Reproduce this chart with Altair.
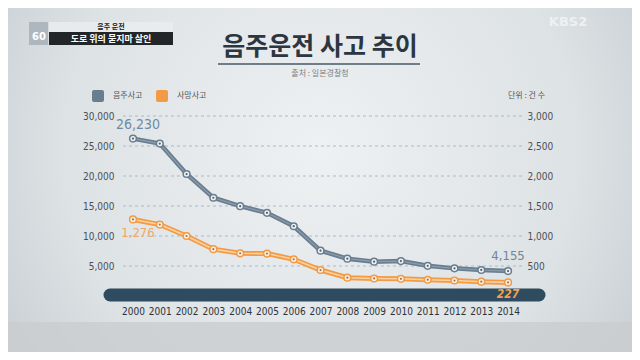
import altair as alt
import pandas as pd

years = list(range(2000, 2015))
drunk = [26230, 25400, 20331, 16374, 14977, 13864, 11627, 7562, 6219, 5726, 5822, 5030, 4605, 4335, 4155]
fatal = [1276, 1191, 1000, 781, 712, 707, 612, 433, 305, 292, 287, 271, 258, 238, 227]
left_ticks = [5000, 10000, 15000, 20000, 25000, 30000]
right_ticks = [500, 1000, 1500, 2000, 2500, 3000]

BLUE = "#687d8f"
BLUE_LIGHT = "#9aabb9"
ORANGE = "#f29a44"
ORANGE_LIGHT = "#fcd2a2"
FONT = "Noto Sans CJK KR"
NUMF = "DejaVu Sans Condensed"

df = pd.DataFrame({"year": years, "drunk": drunk, "fatal": fatal})
grid_df = pd.DataFrame({"drunk": left_ticks})
one = pd.DataFrame({"a": [0]})

W, H = 399, 180
xscale = alt.Scale(domain=[1999.627, 2014.52], nice=False, zero=False)
X = alt.X("year:Q", scale=xscale,
          axis=alt.Axis(values=years, format="d", domain=False, ticks=False, grid=False,
                        labelPadding=10, labelFont=NUMF, labelFontSize=10, zindex=1,
                        labelColor="#2e3236", title=None, labelFlush=False))

# background
bg = alt.Chart(one).mark_rect(
    fill=alt.Gradient(gradient="radial", stops=[
        alt.GradientStop(color="#eef1f2", offset=0),
        alt.GradientStop(color="#dde2e5", offset=0.55),
        alt.GradientStop(color="#b9c0c5", offset=1)],
        x1=0.5, y1=0.45, r1=0, x2=0.5, y2=0.45, r2=0.75)
).encode(x=alt.value(-115), x2=alt.value(509), y=alt.value(-108), y2=alt.value(236))

bottom_band = alt.Chart(one).mark_rect(fill="#c9cdd0", opacity=0.8).encode(
    x=alt.value(-115), x2=alt.value(509), y=alt.value(206), y2=alt.value(236))

def txt(text, x, y, size, color, weight="normal", align="center", font=FONT):
    return alt.Chart(one).mark_text(text=text, fontSize=size, color=color, fontWeight=weight,
                                    align=align, baseline="middle", font=font).encode(
        x=alt.value(x), y=alt.value(y))

title = txt("음주운전 사고 추이", 197, -69, 25, "#2c3641", weight="bold")
underline = alt.Chart(one).mark_rule(color="#6f7d89", strokeWidth=2).encode(
    x=alt.value(95), x2=alt.value(297), y=alt.value(-52))
source = txt("출처 : 일본경찰청", 197, -42, 8, "#7a7f84")

leg_b = alt.Chart(one).mark_rect(fill=BLUE, cornerRadius=2).encode(
    x=alt.value(-31), x2=alt.value(-19), y=alt.value(-26), y2=alt.value(-14))
leg_bt = txt("음주사고", -10, -20, 8, "#555555", align="left")
leg_o = alt.Chart(one).mark_rect(fill=ORANGE, cornerRadius=2).encode(
    x=alt.value(33), x2=alt.value(45), y=alt.value(-26), y2=alt.value(-14))
leg_ot = txt("사망사고", 54, -20, 8, "#555555", align="left")
unit = txt("단위 : 건 수", 422, -20, 8, "#555555", align="right")

# TV overlays
cap_box = alt.Chart(one).mark_rect(fill="#e9ecee", opacity=0.9).encode(
    x=alt.value(-74), x2=alt.value(50), y=alt.value(-94), y2=alt.value(-84))
cap_dark = alt.Chart(one).mark_rect(fill="#222629").encode(
    x=alt.value(-74), x2=alt.value(50), y=alt.value(-84), y2=alt.value(-71))
logo = alt.Chart(one).mark_rect(fill="#aab3b9", opacity=0.9).encode(
    x=alt.value(-94), x2=alt.value(-75), y=alt.value(-94), y2=alt.value(-71))
cap1 = txt("음주 운전", -12, -89, 7, "#222222", weight="bold")
cap2 = txt("도로 위의 묻지마 살인", -12, -77, 9, "#ffffff", weight="bold")
logo_t = txt("60", -84, -79, 10, "#ffffff", weight="bold", font="DejaVu Sans")
kbs = txt("KBS2", 445, -94, 13, "#eef1f3", weight="bold", font="DejaVu Sans")

bar = alt.Chart(one).mark_rule(color="#2f4b60", strokeWidth=13, strokeCap="round").encode(
    x=alt.value(-13), x2=alt.value(416), y=alt.value(179))

# left (blue) series
yL = alt.Y("drunk:Q", scale=alt.Scale(domain=[0, 30000], nice=False),
           axis=alt.Axis(values=left_ticks, format=",.0f", orient="left", domain=False, ticks=False,
                         grid=False, labelPadding=9, labelFont=NUMF, labelFontSize=10,
                         labelColor="#4a4f55", title=None, zindex=1))
grid = alt.Chart(grid_df).mark_rule(color="#a8bccb", strokeDash=[3, 3], strokeWidth=1).encode(
    y=yL, x=alt.value(0), x2=alt.value(W))
base_b = alt.Chart(df).encode(x=X, y=yL)
line_b = base_b.mark_line(color=BLUE, strokeWidth=4.5)
line_b2 = base_b.mark_line(color=BLUE_LIGHT, strokeWidth=1.2, opacity=0.7)
pts_b = base_b.mark_point(shape="circle", size=45, filled=True, fill="#f0f2f3",
                          stroke=BLUE, strokeWidth=1.5, opacity=1)
dot_b = base_b.mark_point(shape="circle", size=5, filled=True, color="#55616b", opacity=1)
lab_b1 = alt.Chart(df[df.year == 2000]).mark_text(
    fontSize=14, color="#6f8ba3", dy=-14, dx=5, font=NUMF).encode(
    x=X, y=yL, text=alt.Text("drunk:Q", format=",.0f"))
lab_b2 = alt.Chart(df[df.year == 2014]).mark_text(
    fontSize=13, color="#6f8497", dy=-15, dx=0, font=NUMF).encode(
    x=X, y=yL, text=alt.Text("drunk:Q", format=",.0f"))

left = alt.layer(bg, bottom_band, grid, title, underline, source, leg_b, leg_bt, leg_o, leg_ot, unit,
                 logo, cap_box, cap_dark, cap1, cap2, logo_t, kbs, bar,
                 line_b, line_b2, pts_b, dot_b, lab_b1, lab_b2)

# right (orange) series
yR = alt.Y("fatal:Q", scale=alt.Scale(domain=[0, 3000], nice=False),
           axis=alt.Axis(values=right_ticks, format=",.0f", orient="right", domain=False, ticks=False,
                         grid=False, labelPadding=5, labelFont=NUMF, labelFontSize=10,
                         labelColor="#4a4f55", title=None, zindex=1))
base_o = alt.Chart(df).encode(x=X, y=yR)
line_o = base_o.mark_line(color=ORANGE, strokeWidth=5)
line_o2 = base_o.mark_line(color=ORANGE_LIGHT, strokeWidth=1.6)
pts_o = base_o.mark_point(shape="circle", size=45, filled=True, fill="#fbf1e6",
                          stroke=ORANGE, strokeWidth=1.5, opacity=1)
dot_o = base_o.mark_point(shape="circle", size=5, filled=True, color="#a8794a", opacity=1)
lab_o1 = alt.Chart(df[df.year == 2000]).mark_text(
    fontSize=13, color="#f0a868", dx=5, dy=14, font=NUMF).encode(
    x=X, y=yR, text=alt.Text("fatal:Q", format=",.0f"))
lab_o2 = alt.Chart(df[df.year == 2014]).mark_text(
    fontSize=12, color="#f2a24e", dy=12, fontWeight="bold", fontStyle="italic",
    font=NUMF).encode(
    x=X, y=yR, text=alt.Text("fatal:Q", format=",.0f"))

right = alt.layer(line_o, line_o2, pts_o, dot_o, lab_o1, lab_o2)

chart = alt.layer(left, right).resolve_scale(y="independent").properties(
    width=W, height=H,
    autosize=alt.AutoSizeParams(type="none"),
    padding={"left": 115, "top": 108, "right": 110, "bottom": 56},
    background="#c9cfd3",
).configure_view(stroke=None)

chart.save("out.html", embed_options={"renderer": "svg", "actions": False})
